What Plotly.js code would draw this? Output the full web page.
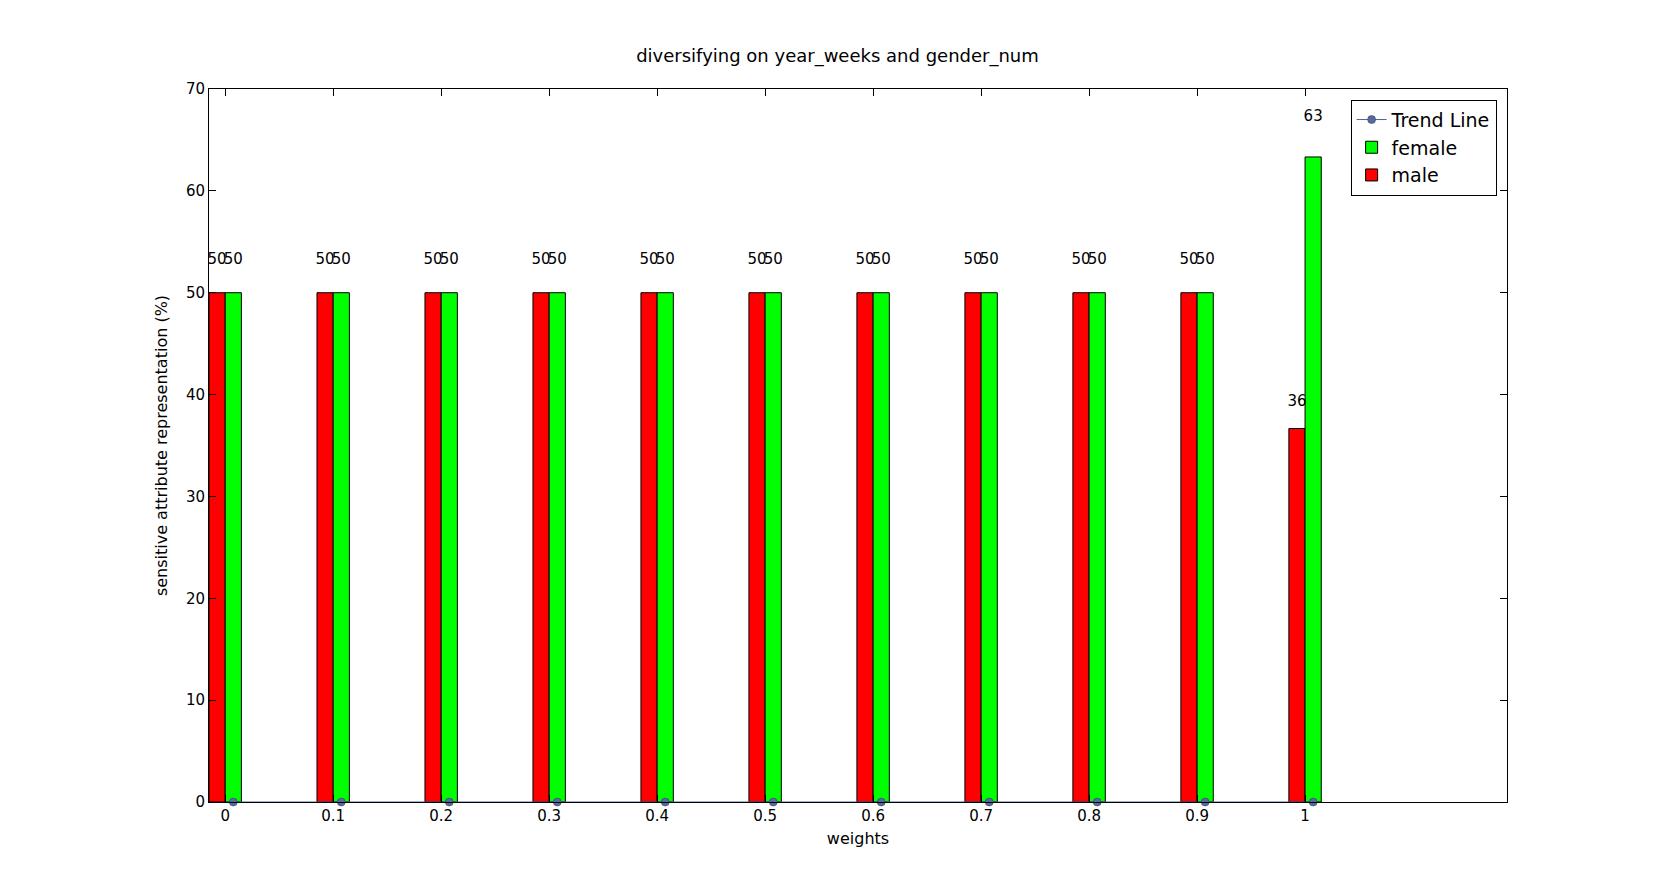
<!DOCTYPE html>
<html>
<head>
<meta charset="utf-8">
<script src="https://cdn.plot.ly/plotly-3.0.1.min.js"></script>
<style>html,body{margin:0;padding:0;background:#fff}#chart{width:1675px;height:891px}</style>
</head>
<body>
<div id="chart"></div>
<script>
// Grouped male/female bars per weight, flat trend line at zero.
const weights = ["0", "0.1", "0.2", "0.3", "0.4", "0.5", "0.6", "0.7", "0.8", "0.9", "1"];
const male = [50, 50, 50, 50, 50, 50, 50, 50, 50, 50, 36.67];
const female = [50, 50, 50, 50, 50, 50, 50, 50, 50, 50, 63.33];
const trend = [0, 0, 0, 0, 0, 0, 0, 0, 0, 0, 0];

const W = 0.15;
const idx = weights.map((_, i) => i);
const xm = idx.map((i) => i - W / 2);
const xf = idx.map((i) => i + W / 2);
const FONT = "DejaVu Sans, sans-serif";

const barLine = { color: "#000", width: 1 };
const traces = [
  { type: "bar", name: "male", x: xm, y: male, width: W, marker: { color: "#ff0000", line: barLine } },
  { type: "bar", name: "female", x: xf, y: female, width: W, marker: { color: "#00ff00", line: barLine } },
  { type: "scatter", mode: "lines+markers", name: "Trend Line", x: xf, y: trend, cliponaxis: false,
    line: { color: "#4c6394", width: 1 }, marker: { color: "#556b9e", size: 8, line: { color: "#2d3b5a", width: 0.5 } } },
  // value labels at 1.05 × height, like matplotlib ha=center va=bottom
  { type: "scatter", mode: "text", showlegend: false, hoverinfo: "skip", cliponaxis: false,
    x: xm.concat(xf), y: male.concat(female).map((v) => v * 1.05),
    text: male.concat(female).map((v) => String(Math.floor(v))),
    textposition: "top center", textfont: { size: 15, color: "#000", family: FONT } },
];

const axisCommon = {
  showline: true, linecolor: "#000", linewidth: 1, mirror: "ticks", ticks: "inside", ticklen: 7,
  tickcolor: "#000", showgrid: false, zeroline: false, tickfont: { size: 15, color: "#000", family: FONT },
};

const layout = {
  width: 1675, height: 891,
  paper_bgcolor: "#fff", plot_bgcolor: "#fff",
  font: { family: FONT, color: "#000" },
  margin: { l: 209, r: 168, t: 89, b: 89 },
  barmode: "overlay",
  title: { text: "diversifying on year_weeks and gender_num", font: { size: 18 }, x: 0.5, xanchor: "center", y: 0.93, yanchor: "bottom", yref: "container" },
  xaxis: { ...axisCommon, range: [-0.15, 11.87], tickmode: "array", tickvals: idx, ticktext: weights,
    title: { text: "weights", font: { size: 16 }, standoff: 8 } },
  yaxis: { ...axisCommon, range: [0, 70], dtick: 10, tick0: 0,
    title: { text: "sensitive attribute representation (%)", font: { size: 16 }, standoff: 14 } },
  legend: { x: 0.992, xanchor: "right", y: 0.985, yanchor: "top", bgcolor: "#fff", bordercolor: "#000", borderwidth: 1,
    font: { size: 19, family: FONT }, traceorder: "reversed" },
  showlegend: true,
};

Plotly.newPlot("chart", traces, layout, { displayModeBar: false, staticPlot: true });
</script>
</body>
</html>
